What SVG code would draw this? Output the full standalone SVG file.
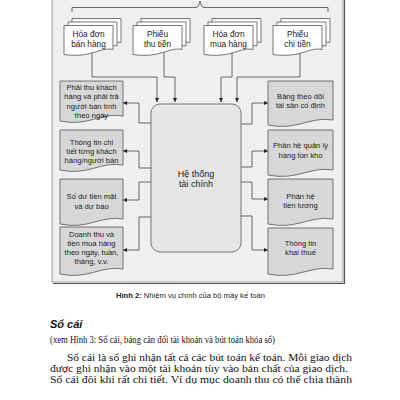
<svg xmlns="http://www.w3.org/2000/svg" width="400" height="400" viewBox="0 0 400 400">
<style>
.frame{fill:#efefef;stroke:#9a9a9a;stroke-width:1}
.shadow{fill:none;stroke:#555;stroke-width:1.2}
.in{fill:#fff;stroke:#555;stroke-width:0.8}
.out{fill:#d7d7d7;stroke:#555;stroke-width:0.8}
.core{fill:#e5e5e5;stroke:#6a6a6a;stroke-width:0.9}
.con{fill:none;stroke:#444;stroke-width:0.8}
.t{font-family:"Liberation Sans","DejaVu Sans",sans-serif;fill:#222;text-anchor:middle}
.ti{font-size:8.3px}
.to{font-size:7.6px}
.tc{font-size:9px}
.cap{font-family:"Liberation Sans","DejaVu Sans",sans-serif;font-size:7.6px;fill:#222;text-anchor:middle}
.h{font-family:"Liberation Sans","DejaVu Sans",sans-serif;font-size:11px;font-weight:bold;font-style:italic;fill:#111}
.body{font-family:"Liberation Serif","DejaVu Serif",serif;font-size:10.5px;fill:#111}
</style>
<defs>
<marker id="ah" viewBox="0 0 6 6" refX="6" refY="3" markerWidth="4" markerHeight="4" markerUnits="userSpaceOnUse" orient="auto">
<path d="M0,0 L6,3 L0,6 Z" fill="#222"/>
</marker>
<path id="pg" d="M0,0 H49 V24 C36,21 28,33 0,29 Z"/>
</defs>

<rect class="frame" x="52" y="-5" width="291" height="287"/>
<path class="shadow" d="M53,283.5 H344.5 V-5"/>

<path class="con" d="M72,12 V7.5 H196 Q199,7.5 200,1 Q201,7.5 204,7.5 H328 V12"/>

<g id="connectors">
<path class="con" d="M92,50 V77 H157 V102" marker-end="url(#ah)"/>
<path class="con" d="M164,50 V77 H175 V102" marker-end="url(#ah)"/>
<path class="con" d="M232,50 V77 H221 V102" marker-end="url(#ah)"/>
<path class="con" d="M300,50 V77 H237 V102" marker-end="url(#ah)"/>
<path class="con" d="M151,123 H139 V103 H123" marker-end="url(#ah)"/>
<path class="con" d="M151,168 H139 V151 H123" marker-end="url(#ah)"/>
<path class="con" d="M151,182 H139 V200 H123" marker-end="url(#ah)"/>
<path class="con" d="M151,217 H139 V250 H123" marker-end="url(#ah)"/>
<path class="con" d="M241,124 H252 V103 H268" marker-end="url(#ah)"/>
<path class="con" d="M241,167 H252 V151 H268" marker-end="url(#ah)"/>
<path class="con" d="M241,182 H252 V199 H268" marker-end="url(#ah)"/>
<path class="con" d="M241,216 H252 V250 H268" marker-end="url(#ah)"/>
</g>

<g id="doc-hoadon-ban">
<use href="#pg" class="in" x="72" y="18.5"/>
<use href="#pg" class="in" x="68" y="22"/>
<use href="#pg" class="in" x="64" y="25.5"/>
<text class="t ti" x="88.5" y="37">Hóa đơn</text>
<text class="t ti" x="88.5" y="47">bán hàng</text>
</g>
<g id="doc-phieu-thu">
<use href="#pg" class="in" x="141" y="18.5"/>
<use href="#pg" class="in" x="137" y="22"/>
<use href="#pg" class="in" x="133" y="25.5"/>
<text class="t ti" x="157.5" y="37">Phiếu</text>
<text class="t ti" x="157.5" y="47">thu tiền</text>
</g>
<g id="doc-hoadon-mua">
<use href="#pg" class="in" x="212" y="18.5"/>
<use href="#pg" class="in" x="208" y="22"/>
<use href="#pg" class="in" x="204" y="25.5"/>
<text class="t ti" x="228.5" y="37">Hóa đơn</text>
<text class="t ti" x="228.5" y="47">mua hàng</text>
</g>
<g id="doc-phieu-chi">
<use href="#pg" class="in" x="281" y="18.5"/>
<use href="#pg" class="in" x="277" y="22"/>
<use href="#pg" class="in" x="273" y="25.5"/>
<text class="t ti" x="297.5" y="37">Phiếu</text>
<text class="t ti" x="297.5" y="47">chi tiền</text>
</g>

<g id="he-thong">
<rect class="core" x="151" y="104" width="90" height="148" rx="9"/>
<text class="t tc" x="196" y="176.5">Hệ thống</text>
<text class="t tc" x="196" y="186.5">tài chính</text>
</g>

<g id="l1">
<path class="out" d="M60,81 H123 V116 C101,112 88,127 60,121 Z"/>
<text class="t to" x="91.5" y="89.7">Phải thu khách</text>
<text class="t to" x="91.5" y="99">hàng và phải trả</text>
<text class="t to" x="91.5" y="108.5">người bán tính</text>
<text class="t to" x="91.5" y="118">theo ngày</text>
</g>
<g id="l2">
<path class="out" d="M60,130 H123 V165 C101,161 88,176 60,170 Z"/>
<text class="t to" x="91.5" y="145">Thông tin chi</text>
<text class="t to" x="91.5" y="154">tiết từng khách</text>
<text class="t to" x="91.5" y="163">hàng/người bán</text>
</g>
<g id="l3">
<path class="out" d="M60,179 H123 V219 C101,215 88,230 60,224 Z"/>
<text class="t to" x="91.5" y="199">Số dư tiền mặt</text>
<text class="t to" x="91.5" y="209">và dự báo</text>
</g>
<g id="l4">
<path class="out" d="M60,227 H123 V269 C101,265 88,280 60,274 Z"/>
<text class="t to" x="91.5" y="237">Doanh thu và</text>
<text class="t to" x="91.5" y="246">tiền mua hàng</text>
<text class="t to" x="91.5" y="255">theo ngày, tuần,</text>
<text class="t to" x="91.5" y="264">tháng, v.v.</text>
</g>

<g id="r1">
<path class="out" d="M268,81 H333 V120 C310,116 297,131 268,125 Z"/>
<text class="t to" x="300.5" y="99">Bảng theo dõi</text>
<text class="t to" x="300.5" y="108">tài sản cố định</text>
</g>
<g id="r2">
<path class="out" d="M268,130 H333 V170 C310,166 297,181 268,175 Z"/>
<text class="t to" x="300.5" y="148">Phân hệ quản lý</text>
<text class="t to" x="300.5" y="158">hàng tồn kho</text>
</g>
<g id="r3">
<path class="out" d="M268,179 H333 V219 C310,215 297,230 268,224 Z"/>
<text class="t to" x="300.5" y="199">Phân hệ</text>
<text class="t to" x="300.5" y="208">tiền lương</text>
</g>
<g id="r4">
<path class="out" d="M268,228 H333 V269 C310,265 297,280 268,274 Z"/>
<text class="t to" x="300.5" y="246">Thông tin</text>
<text class="t to" x="300.5" y="255">khai thuế</text>
</g>

<text class="cap" x="190.5" y="298"><tspan font-weight="bold">Hình 2:</tspan> Nhiệm vụ chính của bộ máy kế toán</text>

<text class="h" x="50" y="328">Sổ cái</text>
<text class="body" x="50" y="343" textLength="225" lengthAdjust="spacingAndGlyphs">(xem Hình 3: Sổ cái, bảng cân đối tài khoản và bút toán khóa sổ)</text>
<text class="body" x="67" y="361" textLength="285" lengthAdjust="spacingAndGlyphs">Sổ cái là sổ ghi nhận tất cả các bút toán kế toán. Mỗi giao dịch</text>
<text class="body" x="50" y="372" textLength="298" lengthAdjust="spacingAndGlyphs">được ghi nhận vào một tài khoản tùy vào bản chất của giao dịch.</text>
<text class="body" x="50" y="383" textLength="302" lengthAdjust="spacingAndGlyphs">Sổ cái đôi khi rất chi tiết. Ví dụ mục doanh thu có thể chia thành</text>
</svg>
